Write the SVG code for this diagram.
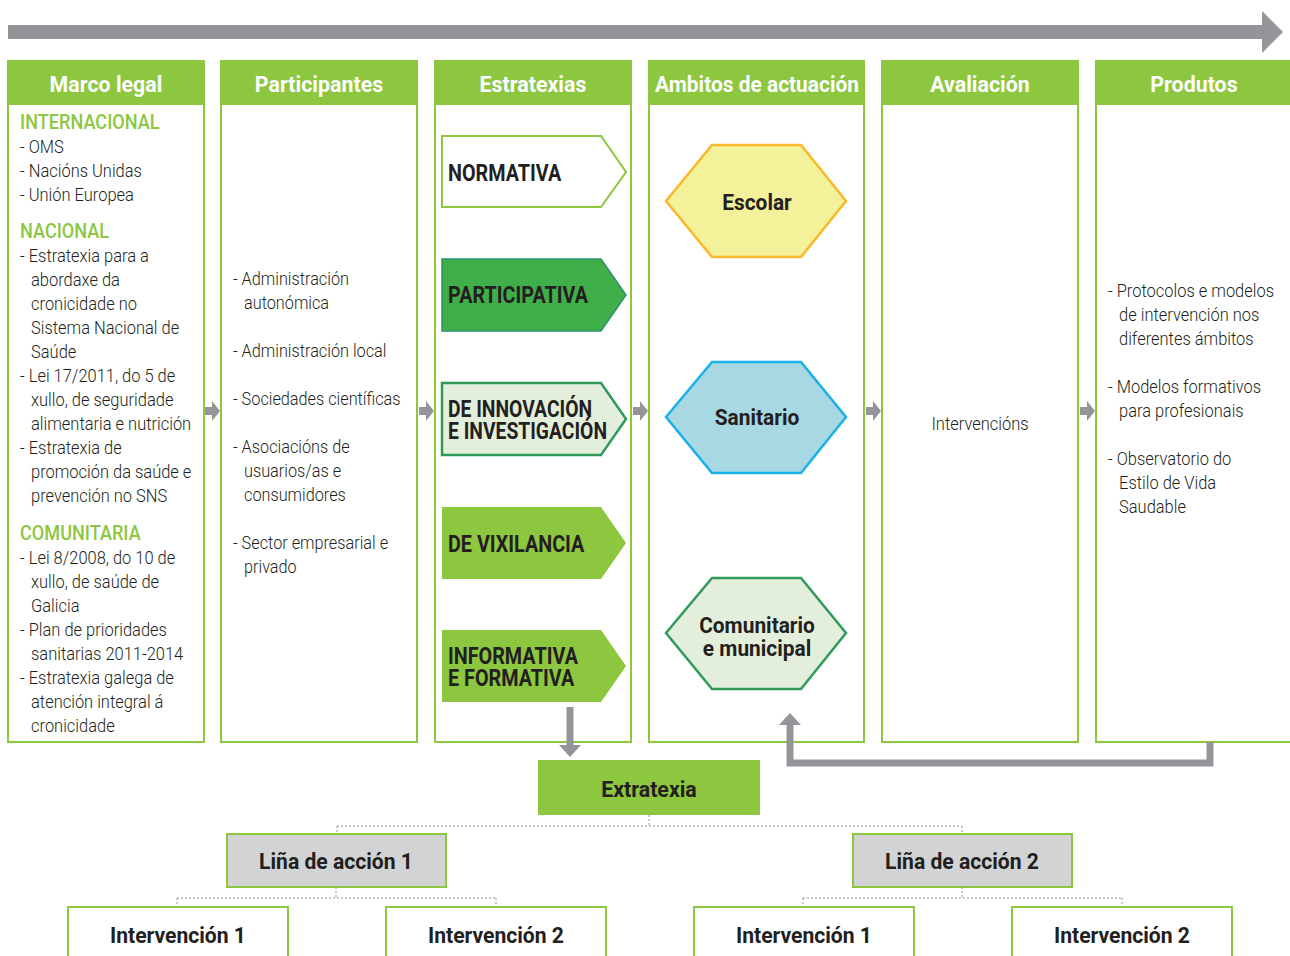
<svg xmlns="http://www.w3.org/2000/svg" width="1290" height="956" viewBox="0 0 1290 956">
<style>
.col{fill:#fff;stroke:#8dc63f;stroke-width:2}
.hdr{fill:#8dc63f}
.ht{font-family:Roboto,"Liberation Sans",sans-serif;font-weight:700;font-size:22.5px;fill:#fff;text-anchor:middle}
.bt{font-family:Roboto,"Liberation Sans",sans-serif;font-weight:300;font-size:18.5px;fill:#231f20}
.gh{font-family:Roboto,"Liberation Sans",sans-serif;font-weight:500;font-size:19.5px;fill:#8dc63f}
.bk{font-family:Roboto,"Liberation Sans",sans-serif;font-weight:700;font-size:23px;fill:#231f20}
.bkc{font-family:Roboto,"Liberation Sans",sans-serif;font-weight:700;font-size:22px;fill:#231f20;text-anchor:middle}
.gar{fill:#939598}
.dot{fill:none;stroke:#939598;stroke-width:1;stroke-dasharray:2 2}
.box{stroke:#8dc63f;stroke-width:2}
</style>
<defs>
<path id="sa" d="M0,-4 H7 V-10 L15,0 L7,10 V4 H0 Z"/>
</defs>

<g id="timeline">
<rect x="8" y="25" width="1254" height="14" class="gar"/>
<polygon points="1262,11 1283,32 1262,53" class="gar"/>
</g>

<g id="col-marco">
<rect x="8" y="61" width="196" height="681" class="col"/>
<rect x="8" y="61" width="196" height="44" class="hdr"/>
<text class="ht" transform="translate(106,92) scale(0.95,1)">Marco legal</text>
<text class="gh" transform="translate(20,0) scale(0.93,1)">
<tspan x="0" y="129">INTERNACIONAL</tspan>
<tspan x="0" y="238">NACIONAL</tspan>
<tspan x="0" y="540">COMUNITARIA</tspan>
</text>
<text class="bt" transform="translate(20,0) scale(0.89,1)">
<tspan x="0" y="153">- OMS</tspan>
<tspan x="0" y="177">- Nacións Unidas</tspan>
<tspan x="0" y="201">- Unión Europea</tspan>
<tspan x="0" y="262">- Estratexia para a</tspan>
<tspan x="12.4" y="286">abordaxe da</tspan>
<tspan x="12.4" y="310">cronicidade no</tspan>
<tspan x="12.4" y="334">Sistema Nacional de</tspan>
<tspan x="12.4" y="358">Saúde</tspan>
<tspan x="0" y="382">- Lei 17/2011, do 5 de</tspan>
<tspan x="12.4" y="406">xullo, de seguridade</tspan>
<tspan x="12.4" y="430">alimentaria e nutrición</tspan>
<tspan x="0" y="454">- Estratexia de</tspan>
<tspan x="12.4" y="478">promoción da saúde e</tspan>
<tspan x="12.4" y="502">prevención no SNS</tspan>
<tspan x="0" y="564">- Lei 8/2008, do 10 de</tspan>
<tspan x="12.4" y="588">xullo, de saúde de</tspan>
<tspan x="12.4" y="612">Galicia</tspan>
<tspan x="0" y="636">- Plan de prioridades</tspan>
<tspan x="12.4" y="660">sanitarias 2011-2014</tspan>
<tspan x="0" y="684">- Estratexia galega de</tspan>
<tspan x="12.4" y="708">atención integral á</tspan>
<tspan x="12.4" y="732">cronicidade</tspan>
</text>
</g>

<g id="col-participantes">
<rect x="221" y="61" width="196" height="681" class="col"/>
<rect x="221" y="61" width="196" height="44" class="hdr"/>
<text class="ht" transform="translate(319,92) scale(0.95,1)">Participantes</text>
<text class="bt" transform="translate(233,0) scale(0.88,1)">
<tspan x="0" y="285">- Administración</tspan>
<tspan x="12.5" y="309">autonómica</tspan>
<tspan x="0" y="357">- Administración local</tspan>
<tspan x="0" y="405">- Sociedades científicas</tspan>
<tspan x="0" y="453">- Asociacións de</tspan>
<tspan x="12.5" y="477">usuarios/as e</tspan>
<tspan x="12.5" y="501">consumidores</tspan>
<tspan x="0" y="549">- Sector empresarial e</tspan>
<tspan x="12.5" y="573">privado</tspan>
</text>
</g>

<g id="col-estratexias">
<rect x="435" y="61" width="196" height="681" class="col"/>
<rect x="435" y="61" width="196" height="44" class="hdr"/>
<text class="ht" transform="translate(533,92) scale(0.95,1)">Estratexias</text>
</g>

<g id="s-normativa">
<polygon points="442,136 601,136 626,172 601,207 442,207" fill="#fff" stroke="#8dc63f" stroke-width="2"/>
<text class="bk" transform="translate(448,181) scale(0.86,1)">NORMATIVA</text>
</g>
<g id="s-participativa">
<polygon points="442,259 601,259 626,295 601,331 442,331" fill="#40ae49" stroke="#2a9370" stroke-width="1.5"/>
<text class="bk" transform="translate(448,303) scale(0.86,1)">PARTICIPATIVA</text>
</g>
<g id="s-innovacion">
<polygon points="442,383 601,383 626,419 601,455 442,455" fill="#e3efda" stroke="#2f9a5a" stroke-width="2.5"/>
<text class="bk" font-size="22" transform="translate(448,0) scale(0.84,1)"><tspan x="0" y="417">DE INNOVACIÓN</tspan><tspan x="0" y="439">E INVESTIGACIÓN</tspan></text>
</g>
<g id="s-vixilancia">
<polygon points="442,507 601,507 626,543 601,579 442,579" fill="#8dc63f"/>
<text class="bk" transform="translate(448,552) scale(0.86,1)">DE VIXILANCIA</text>
</g>
<g id="s-informativa">
<polygon points="442,630 601,630 626,666 601,702 442,702" fill="#8dc63f"/>
<text class="bk" transform="translate(448,0) scale(0.86,1)"><tspan x="0" y="664">INFORMATIVA</tspan><tspan x="0" y="686">E FORMATIVA</tspan></text>
</g>

<g id="col-ambitos">
<rect x="649" y="61" width="215" height="681" class="col"/>
<rect x="649" y="61" width="215" height="44" class="hdr"/>
<text class="ht" transform="translate(757,92) scale(0.93,1)">Ambitos de actuación</text>
</g>

<g id="h-escolar">
<polygon points="666,201 712,145 801,145 846,201 801,257 712,257" fill="#f3f19a" stroke="#fbb829" stroke-width="2.5"/>
<text class="bkc" transform="translate(757,210) scale(0.95,1)">Escolar</text>
</g>
<g id="h-sanitario">
<polygon points="666,417 712,362 801,362 846,417 801,473 712,473" fill="#a8d8e2" stroke="#1ab0e8" stroke-width="2.5"/>
<text class="bkc" transform="translate(757,425) scale(0.95,1)">Sanitario</text>
</g>
<g id="h-comunitario">
<polygon points="666,633 712,578 801,578 846,633 801,689 712,689" fill="#e3efda" stroke="#2f9a5a" stroke-width="2.5"/>
<text class="bkc" transform="translate(757,0) scale(0.95,1)"><tspan x="0" y="633">Comunitario</tspan><tspan x="0" y="656">e municipal</tspan></text>
</g>

<g id="col-avaliacion">
<rect x="882" y="61" width="196" height="681" class="col"/>
<rect x="882" y="61" width="196" height="44" class="hdr"/>
<text class="ht" transform="translate(980,92) scale(0.95,1)">Avaliación</text>
<text class="bt" text-anchor="middle" transform="translate(980,430) scale(0.89,1)">Intervencións</text>
</g>

<g id="col-produtos">
<rect x="1096" y="61" width="210" height="681" class="col"/>
<rect x="1096" y="61" width="210" height="44" class="hdr"/>
<text class="ht" transform="translate(1194,92) scale(0.95,1)">Produtos</text>
<text class="bt" transform="translate(1108,0) scale(0.89,1)">
<tspan x="0" y="297">- Protocolos e modelos</tspan>
<tspan x="12.4" y="321">de intervención nos</tspan>
<tspan x="12.4" y="345">diferentes ámbitos</tspan>
<tspan x="0" y="393">- Modelos formativos</tspan>
<tspan x="12.4" y="417">para profesionais</tspan>
<tspan x="0" y="465">- Observatorio do</tspan>
<tspan x="12.4" y="489">Estilo de Vida</tspan>
<tspan x="12.4" y="513">Saudable</tspan>
</text>
</g>

<g id="extratexia">
<rect x="538" y="760" width="222" height="55" fill="#8dc63f"/>
<text class="bkc" transform="translate(649,797) scale(0.97,1)">Extratexia</text>
</g>
<g id="linha1">
<rect x="227" y="834" width="219" height="53" fill="#d1d3d4" class="box"/>
<text class="bkc" transform="translate(336,869) scale(0.96,1)">Liña de acción 1</text>
</g>
<g id="linha2">
<rect x="853" y="834" width="219" height="53" fill="#d1d3d4" class="box"/>
<text class="bkc" transform="translate(962,869) scale(0.96,1)">Liña de acción 2</text>
</g>
<g id="int1a">
<rect x="68" y="907" width="220" height="60" fill="#fff" class="box"/>
<text class="bkc" transform="translate(178,943) scale(0.96,1)">Intervención 1</text>
</g>
<g id="int2a">
<rect x="386" y="907" width="220" height="60" fill="#fff" class="box"/>
<text class="bkc" transform="translate(496,943) scale(0.96,1)">Intervención 2</text>
</g>
<g id="int1b">
<rect x="694" y="907" width="220" height="60" fill="#fff" class="box"/>
<text class="bkc" transform="translate(804,943) scale(0.96,1)">Intervención 1</text>
</g>
<g id="int2b">
<rect x="1012" y="907" width="220" height="60" fill="#fff" class="box"/>
<text class="bkc" transform="translate(1122,943) scale(0.96,1)">Intervención 2</text>
</g>

<g id="connectors">
<use href="#sa" x="205" y="411" class="gar"/>
<use href="#sa" x="419" y="411" class="gar"/>
<use href="#sa" x="633" y="411" class="gar"/>
<use href="#sa" x="866" y="411" class="gar"/>
<use href="#sa" x="1080" y="411" class="gar"/>
<line x1="570" y1="707" x2="570" y2="746" stroke="#939598" stroke-width="7"/>
<polygon points="559,745 570,757 581,745" class="gar"/>
<polyline points="1210,742 1210,763 790,763 790,724" fill="none" stroke="#939598" stroke-width="7"/>
<polygon points="779,725 790,713 801,725" class="gar"/>
<path class="dot" d="M649,815 V826 M337,826 H962 M337,826 V834 M962,826 V834"/>
<path class="dot" d="M336,887 V898 M177,898 H496 M177,898 V907 M496,898 V907"/>
<path class="dot" d="M962,887 V898 M803,898 H1122 M803,898 V907 M1122,898 V907"/>
</g>
</svg>
